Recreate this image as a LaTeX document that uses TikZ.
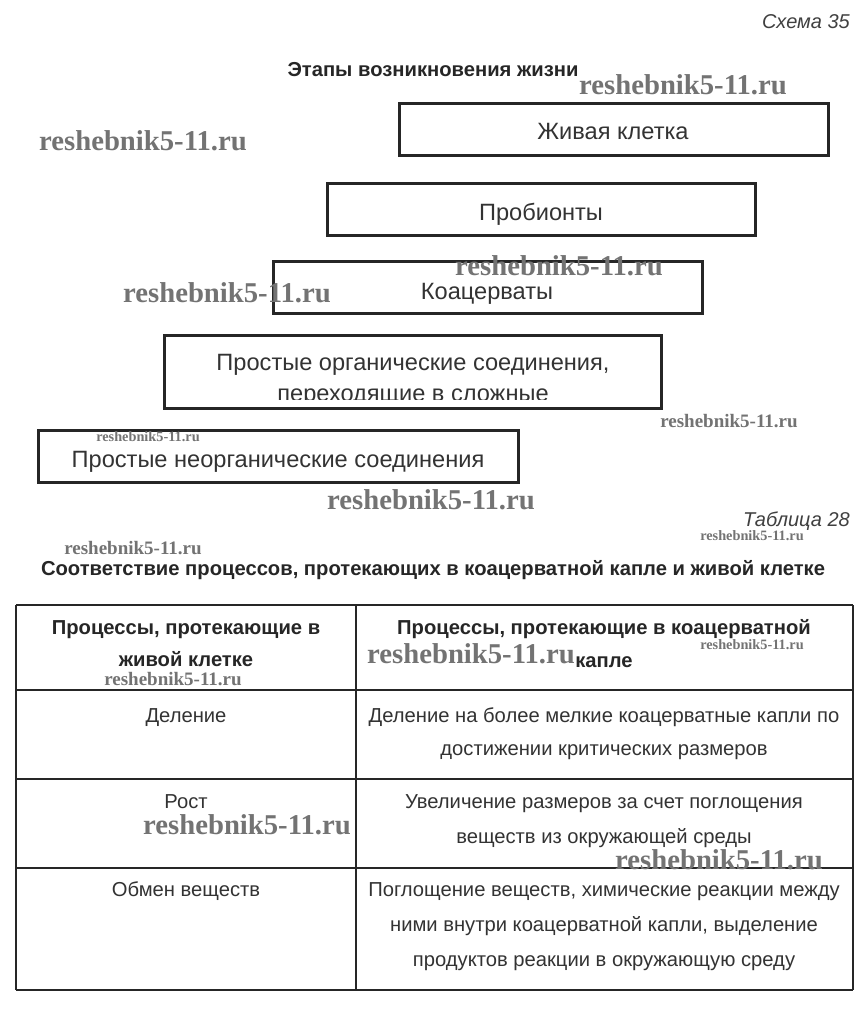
\documentclass[tikz,border=0pt]{standalone}
\usepackage{fontspec}
\setmainfont{Liberation Sans}
\newfontfamily\wmfont{Liberation Serif}
\begin{document}
\begin{tikzpicture}[x=1pt,y=-1pt,
  stagebox/.style={draw=black!85,line width=3pt},
  tline/.style={draw=black!85,line width=2pt},
  boxtxt/.style={anchor=base,inner sep=0pt,font=\fontsize{23.6}{26}\selectfont,text=black!80},
  celltxt/.style={anchor=base,inner sep=0pt,font=\fontsize{20.2}{22}\selectfont,text=black!80},
  headtxt/.style={anchor=base,inner sep=0pt,font=\bfseries\fontsize{20.2}{22}\selectfont,text=black!85},
  captxt/.style={inner sep=0pt,font=\itshape\fontsize{20}{22}\selectfont,text=black!75},
  wmL/.style={inner sep=0pt,font=\wmfont\bfseries\fontsize{28.7}{30}\selectfont,text=black!55},
  wmM/.style={inner sep=0pt,font=\wmfont\bfseries\fontsize{19}{20}\selectfont,text=black!55},
  wmS/.style={inner sep=0pt,font=\wmfont\bfseries\fontsize{14.3}{15}\selectfont,text=black!55}]
\useasboundingbox[fill=white] (0,0) rectangle (864,1036);

% captions
\node[captxt,anchor=base east] (sch) at (850,28) {Схема 35};
\node[headtxt,anchor=base] (ttl1) at (433,76) {Этапы возникновения жизни};

% stage boxes
\draw[stagebox] (399,103) rectangle (828,155);
\node[boxtxt] (b1) at (613,139) {Живая клетка};
\draw[stagebox] (327,183) rectangle (755,235);
\node[boxtxt] (b2) at (541,220) {Пробионты};
\draw[stagebox] (273,261) rectangle (702,313);
\node[boxtxt] (b3) at (487,299) {Коацерваты};
\draw[stagebox] (164,335) rectangle (661,408);
\node[boxtxt] (b4a) at (413,370) {Простые органические соединения,};
\begin{scope}
\clip (170,340) rectangle (655,399.5);
\node[boxtxt] (b4b) at (413,401) {переходящие в сложные};
\end{scope}
\draw[stagebox] (38,430) rectangle (518,482);
\node[boxtxt] (b5) at (278,467) {Простые неорганические соединения};

% table caption
\node[captxt,anchor=base east] (tab) at (850,526) {Таблица 28};
\node[headtxt,anchor=base] (ttl2) at (433,575) {Соответствие процессов, протекающих в коацерватной капле и живой клетке};

% table
\draw[tline] (16,605) -- (853,605);
\draw[tline] (16,690) -- (853,690);
\draw[tline] (16,779) -- (853,779);
\draw[tline] (16,868) -- (853,868);
\draw[tline] (16,990) -- (853,990);
\draw[tline] (16,605) -- (16,990);
\draw[tline] (356,605) -- (356,990);
\draw[tline] (853,605) -- (853,990);

\node[headtxt] (h1a) at (186,634) {Процессы, протекающие в};
\node[headtxt] (h1b) at (186,666) {живой клетке};
\node[headtxt] (h2a) at (604,634) {Процессы, протекающие в коацерватной};
\node[headtxt] (h2b) at (604,667) {капле};

\node[celltxt] (r1a) at (186,722) {Деление};
\node[celltxt] (r1b) at (604,722) {Деление на более мелкие коацерватные капли по};
\node[celltxt] (r1c) at (604,755) {достижении критических размеров};

\node[celltxt] (r2a) at (186,808) {Рост};
\node[celltxt] (r2b) at (604,808) {Увеличение размеров за счет поглощения};
\node[celltxt] (r2c) at (604,843) {веществ из окружающей среды};

\node[celltxt] (r3a) at (186,896) {Обмен веществ};
\node[celltxt] (r3b) at (604,896) {Поглощение веществ, химические реакции между};
\node[celltxt] (r3c) at (604,931) {ними внутри коацерватной капли, выделение};
\node[celltxt] (r3d) at (604,966) {продуктов реакции в окружающую среду};

% watermarks
\node[wmL] (w1) at (683,85) {reshebnik5-11.ru};
\node[wmL] (w2) at (143,141) {reshebnik5-11.ru};
\node[wmL] (w3) at (559,266) {reshebnik5-11.ru};
\node[wmL] (w4) at (227,293) {reshebnik5-11.ru};
\node[wmM] (w5) at (729,421) {reshebnik5-11.ru};
\node[wmS] (w6) at (148,437) {reshebnik5-11.ru};
\node[wmL] (w7) at (431,500) {reshebnik5-11.ru};
\node[wmS] (w8) at (752,536) {reshebnik5-11.ru};
\node[wmM] (w9) at (133,548) {reshebnik5-11.ru};
\node[wmL] (w10) at (471,654) {reshebnik5-11.ru};
\node[wmS] (w11) at (752,645) {reshebnik5-11.ru};
\node[wmM] (w12) at (173,679) {reshebnik5-11.ru};
\node[wmL] (w13) at (247,825) {reshebnik5-11.ru};
\node[wmL] (w14) at (719,860) {reshebnik5-11.ru};
\end{tikzpicture}
\end{document}
